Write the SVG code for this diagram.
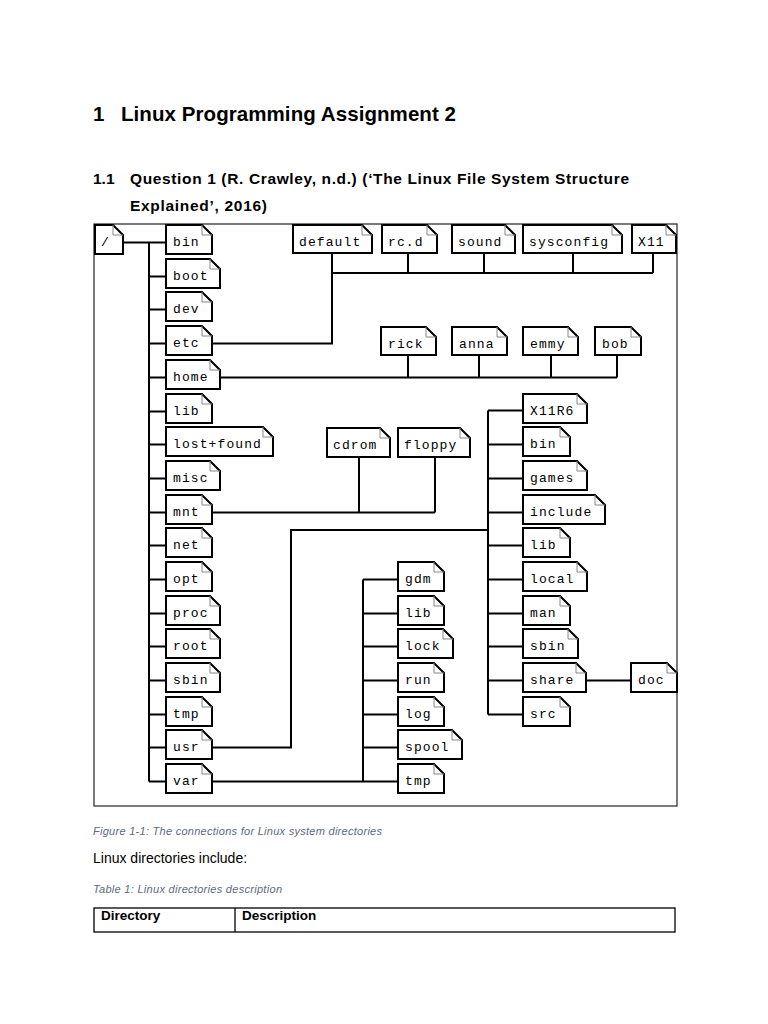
<svg xmlns="http://www.w3.org/2000/svg" width="768" height="1024" viewBox="0 0 768 1024">
<style>
.h1{font-family:"Liberation Sans",Arial,sans-serif;font-weight:bold;font-size:20.5px;fill:#000}
.h2{font-family:"Liberation Sans",Arial,sans-serif;font-weight:bold;font-size:15.5px;fill:#000}
.cap{font-family:"Liberation Sans",Arial,sans-serif;font-style:italic;font-size:11px;fill:#5b6b7c}
.body{font-family:"Liberation Sans",Arial,sans-serif;font-size:14px;fill:#000}
.th{font-family:"Liberation Sans",Arial,sans-serif;font-weight:bold;font-size:13.5px;fill:#000}
.box{fill:#fff;stroke:#000;stroke-width:2}
.fold{fill:none;stroke:#888;stroke-width:1}
.t{font-family:"Liberation Mono","Courier New",monospace;font-size:13px;letter-spacing:1.1px;fill:#000}
.c{fill:none;stroke:#000;stroke-width:2}
</style>
<rect width="768" height="1024" fill="#fff"/>
<text class="h1" x="93" y="121">1</text>
<text class="h1" x="121" y="121" textLength="335" lengthAdjust="spacing">Linux Programming Assignment 2</text>
<text class="h2" x="93" y="184">1.1</text>
<text class="h2" x="130" y="184" textLength="499" lengthAdjust="spacing">Question 1 (R. Crawley, n.d.) (‘The Linux File System Structure</text>
<text class="h2" x="130" y="211" textLength="137" lengthAdjust="spacing">Explained’, 2016)</text>

<rect x="94" y="224" width="583" height="582" fill="none" stroke="#222" stroke-width="1.2"/>

<g id="connectors">
<path class="c" d="M123 242.5H166M149 242.5V781.5"/>
<path class="c" d="M149 276.5H166M149 309.5H166M149 343.5H166M149 377.5H166M149 411.5H166M149 444.5H166M149 478.5H166M149 512.5H166M149 545.5H166M149 579.5H166M149 613.5H166M149 646.5H166M149 680.5H166M149 714.5H166M149 747.5H166M149 781.5H166"/>
<path class="c" d="M212 343.5H332V273M332 273H653M332 253V273M408 253V273M484 253V273M573 253V273M653 253V273"/>
<path class="c" d="M220 377.5H617M408 355V377.5M479 355V377.5M551 355V377.5M617 355V377.5"/>
<path class="c" d="M212 512.5H435M359 457V512.5M435 457V512.5"/>
<path class="c" d="M212 747.5H291V530H488M488 410.5V714.5M488 410.5H523M488 444.5H523M488 478.5H523M488 512.5H523M488 545.5H523M488 579.5H523M488 613.5H523M488 646.5H523M488 680.5H523M488 714.5H523M586 680.5H631"/>
<path class="c" d="M212 781.5H398M363 579.5V781.5M363 579.5H398M363 613.5H398M363 646.5H398M363 680.5H398M363 714.5H398M363 747.5H398"/>
</g>

<g id="n-root"><path class="box" d="M95 225H113L123 235V254H95Z"/><path class="fold" d="M113 225V235H123"/><text class="t" x="101" y="246">/</text></g>

<g id="n-bin"><path class="box" d="M166 225H202L212 235V254H166Z"/><path class="fold" d="M202 225V235H212"/><text class="t" x="173" y="246">bin</text></g>
<g id="n-boot"><path class="box" d="M166 259H210L220 269V288H166Z"/><path class="fold" d="M210 259V269H220"/><text class="t" x="173" y="280">boot</text></g>
<g id="n-dev"><path class="box" d="M166 292H202L212 302V321H166Z"/><path class="fold" d="M202 292V302H212"/><text class="t" x="173" y="313">dev</text></g>
<g id="n-etc"><path class="box" d="M166 326H202L212 336V355H166Z"/><path class="fold" d="M202 326V336H212"/><text class="t" x="173" y="347">etc</text></g>
<g id="n-home"><path class="box" d="M166 360H210L220 370V389H166Z"/><path class="fold" d="M210 360V370H220"/><text class="t" x="173" y="381">home</text></g>
<g id="n-lib"><path class="box" d="M166 394H202L212 404V423H166Z"/><path class="fold" d="M202 394V404H212"/><text class="t" x="173" y="415">lib</text></g>
<g id="n-lostfound"><path class="box" d="M166 427H263L273 437V456H166Z"/><path class="fold" d="M263 427V437H273"/><text class="t" x="173" y="448">lost+found</text></g>
<g id="n-misc"><path class="box" d="M166 461H210L220 471V490H166Z"/><path class="fold" d="M210 461V471H220"/><text class="t" x="173" y="482">misc</text></g>
<g id="n-mnt"><path class="box" d="M166 495H202L212 505V524H166Z"/><path class="fold" d="M202 495V505H212"/><text class="t" x="173" y="516">mnt</text></g>
<g id="n-net"><path class="box" d="M166 528H202L212 538V557H166Z"/><path class="fold" d="M202 528V538H212"/><text class="t" x="173" y="549">net</text></g>
<g id="n-opt"><path class="box" d="M166 562H202L212 572V591H166Z"/><path class="fold" d="M202 562V572H212"/><text class="t" x="173" y="583">opt</text></g>
<g id="n-proc"><path class="box" d="M166 596H210L220 606V625H166Z"/><path class="fold" d="M210 596V606H220"/><text class="t" x="173" y="617">proc</text></g>
<g id="n-rootdir"><path class="box" d="M166 629H210L220 639V658H166Z"/><path class="fold" d="M210 629V639H220"/><text class="t" x="173" y="650">root</text></g>
<g id="n-sbin"><path class="box" d="M166 663H210L220 673V692H166Z"/><path class="fold" d="M210 663V673H220"/><text class="t" x="173" y="684">sbin</text></g>
<g id="n-tmp"><path class="box" d="M166 697H202L212 707V726H166Z"/><path class="fold" d="M202 697V707H212"/><text class="t" x="173" y="718">tmp</text></g>
<g id="n-usr"><path class="box" d="M166 730H202L212 740V759H166Z"/><path class="fold" d="M202 730V740H212"/><text class="t" x="173" y="751">usr</text></g>
<g id="n-var"><path class="box" d="M166 764H202L212 774V793H166Z"/><path class="fold" d="M202 764V774H212"/><text class="t" x="173" y="785">var</text></g>

<g id="n-default"><path class="box" d="M293 225H362L372 235V253H293Z"/><path class="fold" d="M362 225V235H372"/><text class="t" x="299" y="246">default</text></g>
<g id="n-rcd"><path class="box" d="M382 225H427L437 235V253H382Z"/><path class="fold" d="M427 225V235H437"/><text class="t" x="388" y="246">rc.d</text></g>
<g id="n-sound"><path class="box" d="M452 225H505L515 235V253H452Z"/><path class="fold" d="M505 225V235H515"/><text class="t" x="458" y="246">sound</text></g>
<g id="n-sysconfig"><path class="box" d="M523 225H612L622 235V253H523Z"/><path class="fold" d="M612 225V235H622"/><text class="t" x="529" y="246">sysconfig</text></g>
<g id="n-x11"><path class="box" d="M632 225H666L676 235V253H632Z"/><path class="fold" d="M666 225V235H676"/><text class="t" x="638" y="246">X11</text></g>

<g id="n-rick"><path class="box" d="M381 327H426L436 337V355H381Z"/><path class="fold" d="M426 327V337H436"/><text class="t" x="388" y="348">rick</text></g>
<g id="n-anna"><path class="box" d="M452 327H497L507 337V355H452Z"/><path class="fold" d="M497 327V337H507"/><text class="t" x="459" y="348">anna</text></g>
<g id="n-emmy"><path class="box" d="M523 327H568L578 337V355H523Z"/><path class="fold" d="M568 327V337H578"/><text class="t" x="530" y="348">emmy</text></g>
<g id="n-bob"><path class="box" d="M595 327H631L641 337V355H595Z"/><path class="fold" d="M631 327V337H641"/><text class="t" x="602" y="348">bob</text></g>

<g id="n-cdrom"><path class="box" d="M327 428H380L390 438V457H327Z"/><path class="fold" d="M380 428V438H390"/><text class="t" x="333" y="449">cdrom</text></g>
<g id="n-floppy"><path class="box" d="M398 428H460L470 438V457H398Z"/><path class="fold" d="M460 428V438H470"/><text class="t" x="404" y="449">floppy</text></g>

<g id="n-x11r6"><path class="box" d="M523 394H577L587 404V423H523Z"/><path class="fold" d="M577 394V404H587"/><text class="t" x="530" y="415">X11R6</text></g>
<g id="n-usr-bin"><path class="box" d="M523 427H560L570 437V456H523Z"/><path class="fold" d="M560 427V437H570"/><text class="t" x="530" y="448">bin</text></g>
<g id="n-games"><path class="box" d="M523 461H577L587 471V490H523Z"/><path class="fold" d="M577 461V471H587"/><text class="t" x="530" y="482">games</text></g>
<g id="n-include"><path class="box" d="M523 495H595L605 505V524H523Z"/><path class="fold" d="M595 495V505H605"/><text class="t" x="530" y="516">include</text></g>
<g id="n-usr-lib"><path class="box" d="M523 528H560L570 538V557H523Z"/><path class="fold" d="M560 528V538H570"/><text class="t" x="530" y="549">lib</text></g>
<g id="n-local"><path class="box" d="M523 562H577L587 572V591H523Z"/><path class="fold" d="M577 562V572H587"/><text class="t" x="530" y="583">local</text></g>
<g id="n-man"><path class="box" d="M523 596H560L570 606V625H523Z"/><path class="fold" d="M560 596V606H570"/><text class="t" x="530" y="617">man</text></g>
<g id="n-usr-sbin"><path class="box" d="M523 629H568L578 639V658H523Z"/><path class="fold" d="M568 629V639H578"/><text class="t" x="530" y="650">sbin</text></g>
<g id="n-share"><path class="box" d="M523 663H576L586 673V692H523Z"/><path class="fold" d="M576 663V673H586"/><text class="t" x="530" y="684">share</text></g>
<g id="n-src"><path class="box" d="M523 697H560L570 707V726H523Z"/><path class="fold" d="M560 697V707H570"/><text class="t" x="530" y="718">src</text></g>
<g id="n-doc"><path class="box" d="M631 663H667L677 673V692H631Z"/><path class="fold" d="M667 663V673H677"/><text class="t" x="638" y="684">doc</text></g>

<g id="n-gdm"><path class="box" d="M398 562H434L444 572V591H398Z"/><path class="fold" d="M434 562V572H444"/><text class="t" x="405" y="583">gdm</text></g>
<g id="n-var-lib"><path class="box" d="M398 596H434L444 606V625H398Z"/><path class="fold" d="M434 596V606H444"/><text class="t" x="405" y="617">lib</text></g>
<g id="n-lock"><path class="box" d="M398 629H443L453 639V658H398Z"/><path class="fold" d="M443 629V639H453"/><text class="t" x="405" y="650">lock</text></g>
<g id="n-run"><path class="box" d="M398 663H434L444 673V692H398Z"/><path class="fold" d="M434 663V673H444"/><text class="t" x="405" y="684">run</text></g>
<g id="n-log"><path class="box" d="M398 697H434L444 707V726H398Z"/><path class="fold" d="M434 697V707H444"/><text class="t" x="405" y="718">log</text></g>
<g id="n-spool"><path class="box" d="M398 730H452L462 740V759H398Z"/><path class="fold" d="M452 730V740H462"/><text class="t" x="405" y="751">spool</text></g>
<g id="n-var-tmp"><path class="box" d="M398 764H434L444 774V793H398Z"/><path class="fold" d="M434 764V774H444"/><text class="t" x="405" y="785">tmp</text></g>

<text class="cap" x="93" y="835" textLength="289" lengthAdjust="spacing">Figure 1-1: The connections for Linux system directories</text>
<text class="body" x="93" y="863">Linux directories include:</text>
<text class="cap" x="93" y="893" textLength="189" lengthAdjust="spacing">Table 1: Linux directories description</text>
<g id="table">
<rect x="94" y="908" width="581" height="24" fill="none" stroke="#000" stroke-width="1.3"/>
<line x1="235" y1="908" x2="235" y2="932" stroke="#000" stroke-width="1.3"/>
<text class="th" x="101" y="920">Directory</text>
<text class="th" x="242" y="920">Description</text>
</g>
</svg>
